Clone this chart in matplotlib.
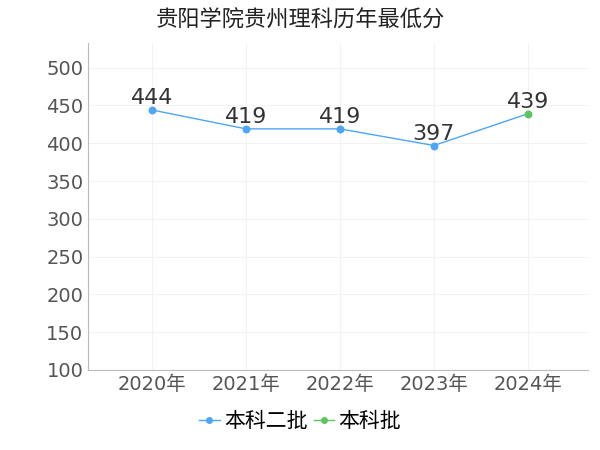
import matplotlib
matplotlib.use("Agg")
import matplotlib.pyplot as plt
from matplotlib.lines import Line2D

plt.rcParams['font.family'] = ['DejaVu Sans', 'Noto Sans CJK SC']

years = ['2020年', '2021年', '2022年', '2023年', '2024年']
line_values = [444, 419, 419, 397, 439]
s1_name, s1_idx = '本科二批', [0, 1, 2, 3]
s2_name, s2_idx = '本科批', [4]
title = '贵阳学院贵州理科历年最低分'
c1, c2 = '#4da6f5', '#5cc45c'

fig = plt.figure(figsize=(6, 4.5), dpi=100)
ax = fig.add_axes([0.147, 0.178, 0.833, 0.727])
x = list(range(len(years)))
ax.plot(x, line_values, color=c1, lw=1, zorder=2)
ax.scatter([x[i] for i in s1_idx], [line_values[i] for i in s1_idx], color=c1, s=22, zorder=3)
ax.scatter([x[i] for i in s2_idx], [line_values[i] for i in s2_idx], color=c2, s=22, zorder=3)
for xi, v in zip(x, line_values):
    ax.text(xi, v + 2, str(v), ha='center', va='bottom', fontsize=16, color='#333333')
ax.set_xlim(-0.68, 4.64)
ax.set_ylim(100, 533)
ax.set_yticks(range(100, 501, 50))
ax.set_xticks(x)
ax.set_xticklabels(years)
ax.tick_params(labelsize=14, colors='#555555', length=0)
ax.grid(True, color='#f3f3f3', lw=0.8)
for s in ['top', 'right']:
    ax.spines[s].set_visible(False)
for s in ['left', 'bottom']:
    ax.spines[s].set_color('#bbbbbb')
fig.text(0.5, 0.955, title, ha='center', va='center', fontsize=16, color='#222222')
handles = [Line2D([], [], color=c1, marker='o', ms=4, lw=1),
           Line2D([], [], color=c2, marker='o', ms=4, lw=1)]
fig.legend(handles, [s1_name, s2_name], loc='lower center', bbox_to_anchor=(0.5, 0.0), ncol=2,
           frameon=False, fontsize=15, handlelength=1.0, handletextpad=0.2, columnspacing=0.3)
fig.savefig('out.png', dpi=100)
